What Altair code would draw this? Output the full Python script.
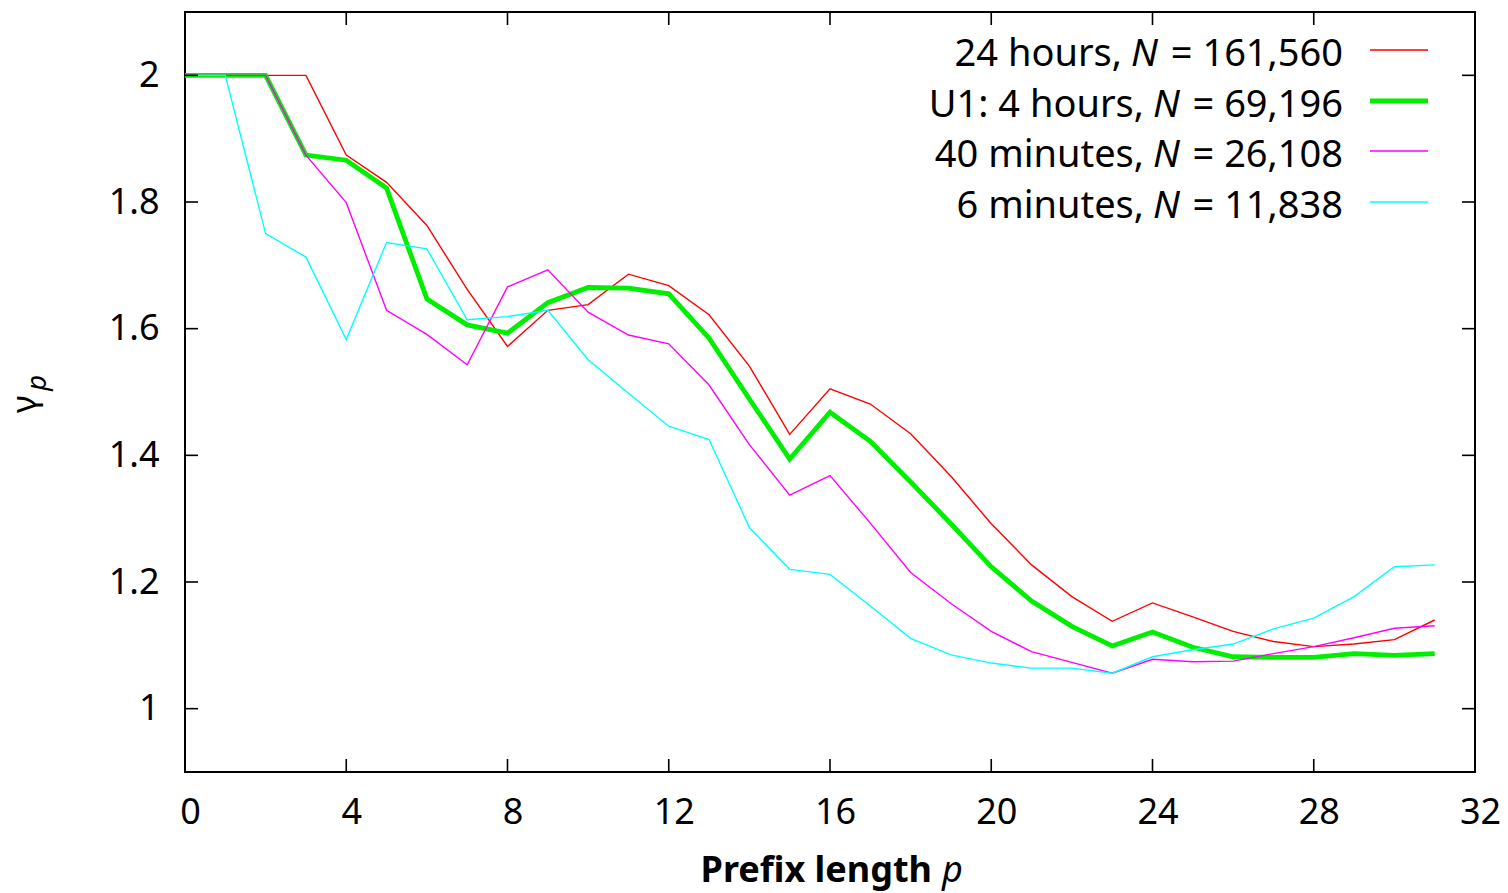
import altair as alt
import pandas as pd

# ---------------- data ----------------
p = list(range(32))
gamma_24h = [2.0, 2.0, 2.0, 2.0, 1.874, 1.831, 1.763, 1.662, 1.572, 1.629, 1.638, 1.686,
             1.668, 1.622, 1.541, 1.433, 1.505, 1.481, 1.434, 1.367, 1.292, 1.227, 1.177,
             1.138, 1.167, 1.145, 1.122, 1.106, 1.098, 1.102, 1.109, 1.140]
gamma_4h = [2.0, 2.0, 2.0, 1.874, 1.866, 1.822, 1.647, 1.606, 1.593, 1.641, 1.665, 1.664,
            1.655, 1.585, 1.489, 1.394, 1.468, 1.422, 1.358, 1.292, 1.224, 1.170, 1.130,
            1.099, 1.121, 1.097, 1.082, 1.081, 1.081, 1.087, 1.084, 1.087]
gamma_40m = [2.0, 2.0, 2.0, 1.874, 1.799, 1.629, 1.591, 1.543, 1.666, 1.693, 1.626, 1.590,
             1.576, 1.511, 1.417, 1.337, 1.368, 1.293, 1.215, 1.166, 1.122, 1.090, 1.073,
             1.056, 1.078, 1.074, 1.075, 1.087, 1.098, 1.112, 1.127, 1.131]
gamma_6m = [2.0, 2.0, 1.750, 1.713, 1.583, 1.736, 1.726, 1.614, 1.619, 1.629, 1.551, 1.498,
            1.446, 1.425, 1.286, 1.220, 1.212, 1.162, 1.111, 1.085, 1.072, 1.064, 1.064,
            1.056, 1.082, 1.093, 1.102, 1.126, 1.143, 1.177, 1.224, 1.227]

series_values = [gamma_24h, gamma_4h, gamma_40m, gamma_6m]
legend_prefix = ["24 hours,", "U1: 4 hours,", "40 minutes,", "6 minutes,"]
legend_suffix = ["= 161,560", "= 69,196", "= 26,108", "= 11,838"]
x_ticks = [0, 4, 8, 12, 16, 20, 24, 28, 32]
y_ticks = [1.0, 1.2, 1.4, 1.6, 1.8, 2.0]

# ---------------- styles ----------------
colors = ["#ff0000", "#00ee00", "#ff00ff", "#00ffff"]
widths = [1.4, 4.8, 1.4, 1.4]
FONT = "Noto Sans"
FS = 36
LFS = 38
W, H = 1290, 760
TICK = 13

xs = alt.Scale(domain=[0, 32], nice=False, zero=False)
ys = alt.Scale(domain=[0.9, 2.1], nice=False, zero=False)

x_axis = alt.Axis(values=x_ticks, format="d", labelFont=FONT, labelFontSize=FS,
                  labelColor="black", labelPadding=23, labelOffset=5, labelFlush=False,
                  domain=False, ticks=False, tickSize=0, grid=False, title=None)
y_axis = alt.Axis(values=y_ticks, format=".1~f", labelFont=FONT, labelFontSize=FS,
                  labelColor="black", labelPadding=26, labelFlush=False, domain=False,
                  ticks=False, tickSize=0, grid=False, title=None)

layers = []

# data lines
for i, vals in enumerate(series_values):
    df = pd.DataFrame({"p": p, "gamma": vals})
    layers.append(alt.Chart(df).mark_line(color=colors[i], strokeWidth=widths[i],
                                          strokeJoin="miter").encode(
        x=alt.X("p:Q", scale=xs, axis=x_axis),
        y=alt.Y("gamma:Q", scale=ys, axis=y_axis)))

# tick marks (inward, all four sides)
xt = pd.DataFrame({"t": x_ticks})
yt = pd.DataFrame({"t": y_ticks})
for y0, y1 in [(H, H - TICK), (0, TICK)]:
    layers.append(alt.Chart(xt).mark_rule(color="black", strokeWidth=1.6).encode(
        x=alt.X("t:Q", scale=xs, axis=x_axis), y=alt.value(y0), y2=alt.value(y1)))
for x0, x1 in [(0, TICK), (W, W - TICK)]:
    layers.append(alt.Chart(yt).mark_rule(color="black", strokeWidth=1.6).encode(
        y=alt.Y("t:Q", scale=ys, axis=y_axis), x=alt.value(x0), x2=alt.value(x1)))

# legend (custom, to allow italic N)
row_y = [38, 89, 139, 190]
n_left = [946, 968, 968, 968]
suffix_right = 1158
for i in range(4):
    one = pd.DataFrame({"pre": [legend_prefix[i]], "n": ["N"], "suf": [legend_suffix[i]]})
    base = alt.Chart(one)
    yb = row_y[i] + 16
    layers.append(base.mark_text(align="right", baseline="alphabetic", font=FONT,
                                 fontSize=LFS, color="black").encode(
        x=alt.value(n_left[i] - 9), y=alt.value(yb), text="pre:N"))
    layers.append(base.mark_text(align="left", baseline="alphabetic", font=FONT,
                                 fontSize=LFS, fontStyle="italic", color="black").encode(
        x=alt.value(n_left[i]), y=alt.value(yb), text="n:N"))
    layers.append(base.mark_text(align="right", baseline="alphabetic", font=FONT,
                                 fontSize=LFS, color="black").encode(
        x=alt.value(suffix_right), y=alt.value(yb), text="suf:N"))
    layers.append(base.mark_rule(color=colors[i], strokeWidth=widths[i]).encode(
        x=alt.value(1185), x2=alt.value(1243), y=alt.value(row_y[i])))

# axis titles
tt = pd.DataFrame({"a": ["Prefix length"], "b": ["p"], "g": ["\u03b3"]})
tb = alt.Chart(tt)
layers.append(tb.mark_text(align="right", baseline="alphabetic", font=FONT, fontSize=FS,
                           fontWeight="bold", color="black").encode(
    x=alt.value(747), y=alt.value(870), text="a:N"))
layers.append(tb.mark_text(align="left", baseline="alphabetic", font=FONT, fontSize=FS,
                           fontStyle="italic", color="black").encode(
    x=alt.value(757), y=alt.value(870), text="b:N"))
layers.append(tb.mark_text(align="left", baseline="alphabetic", font=FONT, fontSize=34,
                           angle=270, color="black").encode(
    x=alt.value(-149), y=alt.value(401), text="g:N"))
layers.append(tb.mark_text(align="left", baseline="alphabetic", font=FONT, fontSize=28,
                           fontStyle="italic", angle=270, color="black").encode(
    x=alt.value(-139), y=alt.value(379), text="b:N"))

chart = alt.layer(*layers).properties(
    width=W, height=H,
    autosize=alt.AutoSizeParams(type="none"),
    padding={"left": 177, "top": 4, "right": 25, "bottom": 121},
).configure_view(stroke="black", strokeWidth=2)

chart.save("out.html", embed_options={"renderer": "svg", "actions": False})
